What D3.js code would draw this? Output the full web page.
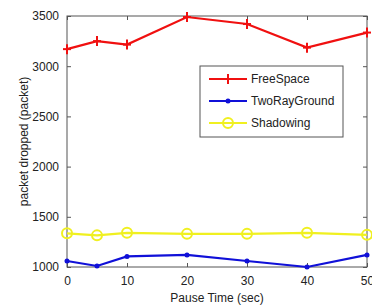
<!DOCTYPE html>
<html lang="en">
<head>
<meta charset="UTF-8">
<title>packet dropped</title>
<style>
  body { margin: 0; background: #fff; }
  svg { display: block; font-family: "Liberation Sans", Arial, sans-serif; }
</style>
</head>
<body>
<div id="chart"></div>
<script src="https://d3js.org/d3.v7.min.js"></script>
<script>
// data
var pauseTimes = [0, 5, 10, 20, 30, 40, 50];
var freeSpace = [3170, 3250, 3215, 3490, 3420, 3185, 3335];
var twoRayGround = [1060, 1010, 1105, 1120, 1060, 1000, 1120];
var shadowing = [1335, 1315, 1340, 1330, 1330, 1340, 1320];
var xTicks = [0, 10, 20, 30, 40, 50];
var yTicks = [1000, 1500, 2000, 2500, 3000, 3500];
var seriesNames = ["FreeSpace", "TwoRayGround", "Shadowing"];

var W = 372, H = 308;
var margin = {top: 16, right: 5, bottom: 41, left: 67};
var width = W - margin.left - margin.right,
    height = H - margin.top - margin.bottom;

var svg = d3.select("#chart").append("svg")
    .attr("width", W).attr("height", H);
var g = svg.append("g")
    .attr("transform", "translate(" + margin.left + "," + margin.top + ")");

var x = d3.scaleLinear().domain([0, 50]).range([0, width]);
var y = d3.scaleLinear().domain([1000, 3500]).range([height, 0]);

var axisColor = "#555";

// frame
g.append("rect").attr("width", width).attr("height", height)
    .attr("fill", "none").attr("stroke", axisColor).attr("stroke-width", 1);

// inward ticks on all sides (matlab style)
function styleAxis(sel) {
    sel.select(".domain").remove();
    sel.selectAll("line").attr("stroke", axisColor);
    sel.selectAll("text").attr("fill", "#222").style("font-size", "12px");
}
g.append("g").attr("transform", "translate(0," + height + ")")
    .call(d3.axisBottom(x).tickValues(xTicks).tickSize(-4).tickPadding(9))
    .call(styleAxis);
g.append("g")
    .call(d3.axisTop(x).tickValues(xTicks).tickSize(-4).tickFormat(""))
    .call(styleAxis);
g.append("g")
    .call(d3.axisLeft(y).tickValues(yTicks).tickSize(-4).tickPadding(8).tickFormat(d3.format("d")))
    .call(styleAxis);
g.append("g").attr("transform", "translate(" + width + ",0)")
    .call(d3.axisRight(y).tickValues(yTicks).tickSize(-4).tickFormat(""))
    .call(styleAxis);

// labels
svg.append("text")
    .attr("x", margin.left + width / 2).attr("y", 302)
    .attr("text-anchor", "middle").style("font-size", "12px").attr("fill", "#222")
    .text("Pause Time (sec)");
svg.append("text")
    .attr("transform", "translate(28," + (margin.top + height / 2) + ") rotate(-90)")
    .attr("text-anchor", "middle").style("font-size", "12px").attr("fill", "#222")
    .text("packet dropped (packet)");

var series = [
    {name: seriesNames[0], values: freeSpace, color: "#f01010", marker: "plus"},
    {name: seriesNames[1], values: twoRayGround, color: "#1010d8", marker: "dot"},
    {name: seriesNames[2], values: shadowing, color: "#f0f020", marker: "circle"}
];

var line = d3.line()
    .x(function(d, i) { return x(pauseTimes[i]); })
    .y(function(d) { return y(d); });

function drawMarker(sel, type, color, cx, cy) {
    if (type === "plus") {
        sel.append("line").attr("x1", cx - 4).attr("x2", cx + 4).attr("y1", cy).attr("y2", cy)
            .attr("stroke", color).attr("stroke-width", 2);
        sel.append("line").attr("x1", cx).attr("x2", cx).attr("y1", cy - 5).attr("y2", cy + 5)
            .attr("stroke", color).attr("stroke-width", 2);
    } else if (type === "dot") {
        sel.append("circle").attr("cx", cx).attr("cy", cy).attr("r", 2.5).attr("fill", color);
    } else {
        sel.append("circle").attr("cx", cx).attr("cy", cy).attr("r", 5)
            .attr("fill", "none").attr("stroke", color).attr("stroke-width", 2);
    }
}

series.forEach(function(s) {
    g.append("path").datum(s.values)
        .attr("d", line).attr("fill", "none")
        .attr("stroke", s.color).attr("stroke-width", 2.2);
    var mg = g.append("g");
    s.values.forEach(function(v, i) {
        drawMarker(mg, s.marker, s.color, x(pauseTimes[i]), y(v));
    });
});

// legend
var lg = svg.append("g").attr("transform", "translate(200,66)");
lg.append("rect").attr("width", 143).attr("height", 71)
    .attr("fill", "#fff").attr("stroke", axisColor);
series.forEach(function(s, i) {
    var ly = 13 + i * 22;
    lg.append("line").attr("x1", 9).attr("x2", 47).attr("y1", ly).attr("y2", ly)
        .attr("stroke", s.color).attr("stroke-width", 2.2);
    drawMarker(lg, s.marker, s.color, 28, ly);
    lg.append("text").attr("x", 51).attr("y", ly + 4)
        .style("font-size", "12px").attr("fill", "#222").text(s.name);
});
</script>
</body>
</html>
